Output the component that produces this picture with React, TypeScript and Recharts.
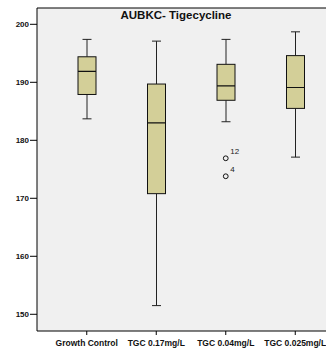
import React from 'react';
import { ComposedChart, Bar, Scatter, XAxis, YAxis, CartesianGrid, ReferenceLine } from 'recharts';

const categories = ['Growth Control', 'TGC 0.17mg/L', 'TGC 0.04mg/L', 'TGC 0.025mg/L'];
const whiskerLow = [183.7, 151.5, 183.2, 177.1];
const quart1 = [187.9, 170.8, 186.9, 185.5];
const medians = [191.9, 183.0, 189.4, 189.1];
const quart3 = [194.4, 189.7, 193.1, 194.6];
const whiskerHigh = [197.4, 197.1, 197.4, 198.7];
const outlierCategory = 'TGC 0.04mg/L';
const outlierValues = [176.9, 173.8];
const outlierLabels = ['12', '4'];
const yTicks = [150, 160, 170, 180, 190, 200];
const yDomain: [number, number] = [147.12, 202.81];
const title = 'AUBKC- Tigecycline';

const data = categories.map((name, i) => ({
  name,
  box: [quart1[i], quart3[i]],
  lo: whiskerLow[i],
  q1: quart1[i],
  med: medians[i],
  q3: quart3[i],
  hi: whiskerHigh[i],
  o1: name === outlierCategory ? outlierValues[0] : null,
  o2: name === outlierCategory ? outlierValues[1] : null,
}));

const FONT = '"Liberation Sans", Arial, sans-serif';

const BoxShape = (props: any) => {
  const { x, y, width, height, payload } = props;
  if (!payload) return null;
  const top = Math.min(y, y + height);
  const h = Math.abs(height);
  const ppu = h / (payload.q3 - payload.q1);
  const py = (v: number) => top + (payload.q3 - v) * ppu;
  const cx = x + width / 2;
  const cap = 4.5;
  const yHi = py(payload.hi);
  const yLo = py(payload.lo);
  const yMed = py(payload.med);
  return (
    <g>
      <line x1={cx} x2={cx} y1={yHi} y2={top} stroke="#222" strokeWidth={1} />
      <line x1={cx} x2={cx} y1={top + h} y2={yLo} stroke="#222" strokeWidth={1} />
      <line x1={cx - cap} x2={cx + cap} y1={yHi} y2={yHi} stroke="#222" strokeWidth={1} />
      <line x1={cx - cap} x2={cx + cap} y1={yLo} y2={yLo} stroke="#222" strokeWidth={1} />
      <rect x={x} y={top} width={width} height={h} fill="#D3CF98" stroke="#111" strokeWidth={1} />
      <line x1={x} x2={x + width} y1={yMed} y2={yMed} stroke="#111" strokeWidth={1.2} />
    </g>
  );
};

const makeOutlier = (label: string) => (props: any) => {
  const { cx, cy } = props;
  if (!Number.isFinite(cx) || !Number.isFinite(cy)) return <g />;
  return (
    <g>
      <circle cx={cx} cy={cy} r={2.4} fill="none" stroke="#111" strokeWidth={1} />
      <text x={cx + 4.5} y={cy - 4} fontSize={8} fontFamily={FONT} fill="#222">
        {label}
      </text>
    </g>
  );
};

export default function App() {
  return (
    <div style={{ position: 'fixed', left: 0, top: 0, width: 326, height: 349, overflow: 'hidden', background: '#fff' }}>
      <ComposedChart
        width={340}
        height={349}
        data={data}
        margin={{ top: 8, right: 10, bottom: 0, left: 0 }}
      >
        <CartesianGrid fill="#F0F0F0" stroke="none" horizontal={false} vertical={false} />
        <XAxis
          dataKey="name"
          type="category"
          padding={{ left: 15, right: 0 }}
          height={18}
          interval={0}
          tickSize={4}
          tickMargin={5}
          axisLine={{ stroke: '#000' }}
          tickLine={{ stroke: '#000' }}
          tick={{ fill: '#111', fontSize: 8.5, fontWeight: 'bold', fontFamily: FONT }}
        />
        <YAxis
          type="number"
          domain={yDomain}
          ticks={yTicks}
          allowDataOverflow
          width={37}
          tickSize={7}
          tickMargin={1}
          axisLine={{ stroke: '#000' }}
          tickLine={{ stroke: '#000' }}
          tick={{ fill: '#111', fontSize: 8, fontWeight: 'bold', fontFamily: FONT }}
        />
        <ReferenceLine y={yDomain[1]} stroke="#000" strokeWidth={1} />
        <Bar dataKey="box" barSize={18} shape={BoxShape} isAnimationActive={false} />
        <Scatter dataKey="o1" shape={makeOutlier(outlierLabels[0])} isAnimationActive={false} />
        <Scatter dataKey="o2" shape={makeOutlier(outlierLabels[1])} isAnimationActive={false} />
      </ComposedChart>
      <svg width={326} height={30} style={{ position: 'absolute', left: 0, top: 0, pointerEvents: 'none' }}>
        <text x={176} y={19} textAnchor="middle" fontSize={11.5} fontWeight="bold" fontFamily={FONT} fill="#111">
          {title}
        </text>
      </svg>
    </div>
  );
}
